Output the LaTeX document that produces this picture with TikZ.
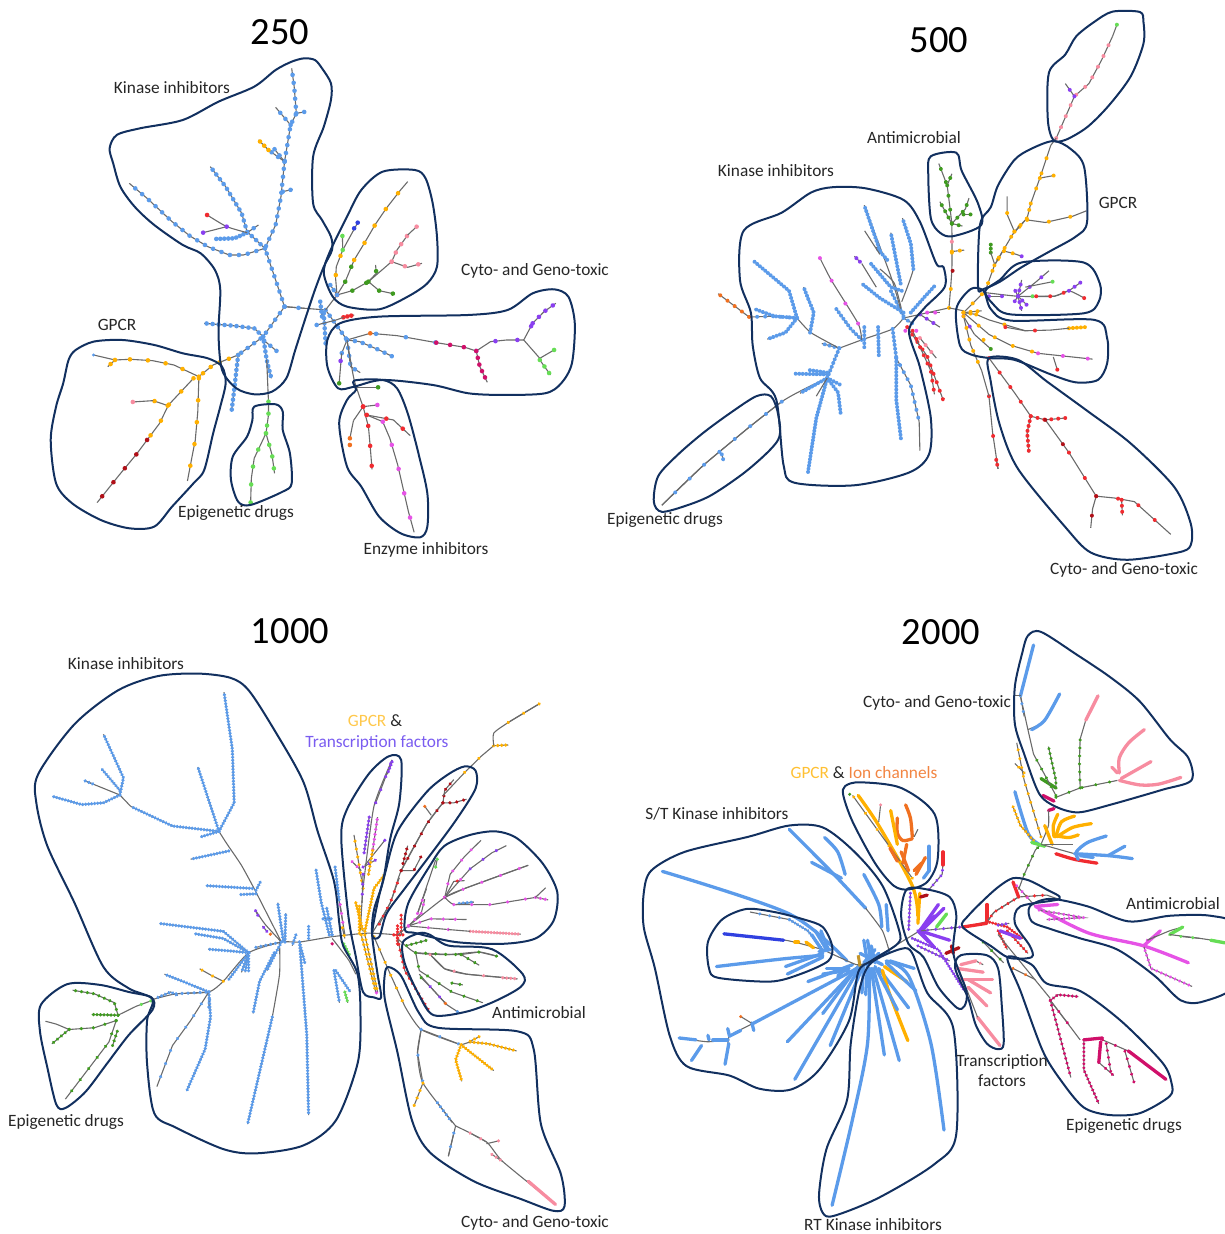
\documentclass[tikz,border=0pt]{standalone}
\usepackage{fontspec}
\usetikzlibrary{decorations.markings}
\setmainfont{Carlito}
\definecolor{blu}{HTML}{5B9BEA}
\definecolor{yel}{HTML}{FFB000}
\definecolor{rd}{HTML}{F02B30}
\definecolor{dkr}{HTML}{B01018}
\definecolor{mag}{HTML}{E653E6}
\definecolor{pur}{HTML}{8A3FF0}
\definecolor{grn}{HTML}{3F9A20}
\definecolor{lgr}{HTML}{66DD55}
\definecolor{pnk}{HTML}{F78CA0}
\definecolor{cri}{HTML}{D0106A}
\definecolor{org}{HTML}{F07020}
\definecolor{dbl}{HTML}{3040E0}
\definecolor{brn}{HTML}{6A6A6A}
\definecolor{nvy}{HTML}{12305F}
\definecolor{ttxt}{HTML}{262626}
\definecolor{tfp}{HTML}{7A5CF0}
\def\dsz{2pt}
\newcommand\T[3][6]{%
  \draw[brn,line width=1.1pt] plot coordinates {#3};
  \path[decoration={markings,mark=between positions 0 and 1 step #1pt with {\fill[#2] (0,0) circle (\dsz);}},decorate] plot coordinates {#3};}
\newcommand\K[2]{\draw[#1,line width=3.3pt,line cap=round] plot[smooth,tension=.5] coordinates {#2};}
\newcommand\G[1]{\draw[brn,line width=1.1pt] plot[smooth,tension=.35] coordinates {#1};}
\newcommand\Bl[1]{\draw[nvy,line width=2pt,line join=round] plot[smooth cycle,tension=.5] coordinates {#1};}
\tikzset{lab/.style={font=\fontsize{17.3}{20}\selectfont,text=ttxt,inner sep=0pt,align=center},
 ttl/.style={font=\fontsize{38.5}{42}\selectfont,text=black,inner sep=0pt}}
\begin{document}
\begin{tikzpicture}[x=1pt,y=-1pt]
\useasboundingbox (0,0) rectangle (1225,1234);
% ---------- 250
\begin{scope}[shift={(40,50)},x=.357pt,y=-.3333pt]
\def\dsz{2.3pt}
\T[8]{blu}{(685,770) (660,690) (630,595) (660,525) (675,440) (685,335) (702,225) (718,190) (712,110) (705,55)}
\T[8]{blu}{(718,190) (745,185)}
\T[8]{blu}{(702,225) (660,172)}
\T[8]{blu}{(685,335) (655,295)}
\T[8]{blu}{(685,335) (640,300)}
\T[6]{yel}{(640,300) (612,270)}
\T[8]{blu}{(680,425) (708,418)}
\T[6]{blu}{(630,595) (580,545) (565,490) (520,410) (477,350)}
\T[9]{blu}{(630,595) (570,615) (530,615) (470,590) (420,558) (370,515) (300,445) (250,400)}
\T[8]{blu}{(580,548) (612,525)}
\T[4]{blu}{(580,548) (545,565) (490,567)}
\G{(580,548) (523,530) (468,495)}
\G{(523,530) (457,548)}
\fill[pur] (523,530) circle (\dsz) (457,548) circle (\dsz);
\fill[rd] (468,495) circle (\dsz);
\T[8]{blu}{(685,770) (625,860) (555,915)}
\T[10]{yel}{(555,915) (485,945) (445,980)}
\T[6]{blu}{(625,860) (600,835) (540,827) (460,820)}
\T[5]{blu}{(625,860) (635,930) (648,985)}
\T[8]{blu}{(628,872) (665,905)}
\G{(635,930) (640,1055)}
\T[12]{lgr}{(640,1055) (640,1095) (633,1150)}
\T[18]{lgr}{(633,1150) (600,1225) (592,1285) (590,1358)}
\T[12]{lgr}{(633,1150) (650,1215) (657,1270)}
\T[5]{blu}{(555,915) (545,1010) (537,1080)}
\T[18]{yel}{(445,980) (375,945) (315,932) (253,928) (210,930)}
\G{(210,930) (150,915)}\fill[blu] (150,915) circle (1.6pt);
\T[6]{yel}{(210,930) (190,950)}
\T[18]{yel}{(430,985) (360,1065) (335,1120) (300,1170)}
\T[18]{dkr}{(300,1170) (270,1213) (222,1275) (160,1358)}
\T[14]{yel}{(358,1067) (317,1052)}
\G{(317,1052) (260,1056)}\fill[pnk] (260,1056) circle (\dsz);
\T[22]{yel}{(445,985) (442,1085) (435,1170) (425,1225) (413,1293)}
\G{(685,770) (800,780)}
\T[14]{blu}{(685,770) (740,775)}
\T[7]{blu}{(800,780) (860,870)}
\G{(800,780) (832,735)}
\T[16]{yel}{(832,735) (855,695)}
\T[16]{grn}{(855,695) (880,630)}
\T[20]{yel}{(880,630) (910,577) (940,522) (970,475) (1010,420) (1030,395)}
\T[20]{yel}{(832,735) (828,685) (830,650) (848,600)}
\G{(848,600) (890,518)}\fill[dbl] (890,518) circle (\dsz) (880,535) circle (\dsz);
\T[14]{lgr}{(848,600) (847,553)}
\T[16]{mag}{(832,735) (875,722)}
\T[16]{grn}{(875,722) (920,695) (942,670) (940,645)}
\G{(920,695) (985,635)}
\T[10]{pnk}{(985,635) (1000,600) (1030,555)}
\G{(1030,555) (1055,530)}\fill[pnk] (1055,530) circle (\dsz);
\T[14]{pnk}{(985,635) (1030,652) (1070,640)}
\T[14]{grn}{(920,695) (950,722) (993,732)}
\T[6]{blu}{(832,735) (810,700)}
\T[5]{blu}{(795,790) (800,880)}
\T[5]{blu}{(785,755) (790,800)}
\G{(775,825) (830,810)}\fill[blu] (775,825) circle (\dsz);
\T[4]{rd}{(850,802) (880,795)}
\G{(830,810) (850,802)}
\T[30]{blu}{(860,870) (925,850) (1000,857) (1110,878)}
\fill[org] (925,850) circle (\dsz);
\T[14]{cri}{(1110,878) (1190,892) (1222,903)}
\T[22]{pur}{(1222,903) (1262,875) (1308,870) (1355,870) (1380,820)}
\T[9]{pur}{(1380,820) (1412,785) (1445,760)}
\G{(1355,870) (1400,925)}
\G{(1400,925) (1440,900)}\fill[lgr] (1440,900) circle (\dsz);
\T[8]{lgr}{(1400,930) (1430,975)}
\T[7]{cri}{(1222,903) (1232,950) (1253,997)}
\T[8]{blu}{(860,870) (895,875) (950,900) (988,920)}
\T[14]{blu}{(860,870) (845,910)}
\G{(845,910) (838,1000)}\fill[pur] (842,933) circle (\dsz);\fill[grn] (838,1000) circle (\dsz);
\T[8]{blu}{(860,870) (870,950) (897,968)}
\G{(860,870) (880,990) (905,1070)}
\G{(880,1012) (947,1012)}\fill[grn] (947,1012) circle (\dsz);
\G{(905,1070) (945,1065)}\fill[mag] (945,1065) circle (\dsz);\fill[rd] (905,1070) circle (\dsz);
\T[18]{rd}{(905,1070) (878,1112)}
\G{(878,1112) (868,1165)}\fill[org] (868,1165) circle (\dsz) (868,1185) circle (\dsz);
\T[20]{rd}{(905,1070) (920,1130) (925,1190) (930,1258)}
\T[20]{rd}{(915,1095) (960,1115)}
\T[25]{mag}{(960,1115) (980,1165) (1002,1245) (1017,1315) (1032,1385) (1048,1447)}
\T[20]{rd}{(915,1095) (990,1110) (1037,1157)}
\Bl{(705,35) (740,25) (770,30) (790,55) (815,100) (815,150) (795,230) (765,320) (765,460) (790,510) (815,560) (818,600) (795,650) (770,720) (745,800) (715,900) (690,985) (650,1025) (600,1033) (550,1015) (510,960) (500,850) (505,720) (490,660) (450,610) (400,585) (320,525) (265,470) (225,410) (205,340) (195,295) (215,255) (280,235) (400,210) (500,155) (600,110) (660,60)}
\Bl{(100,900) (150,875) (230,870) (320,885) (400,910) (470,925) (510,950) (520,1000) (505,1070) (485,1150) (460,1260) (430,1300) (370,1370) (320,1430) (250,1435) (170,1410) (90,1360) (45,1300) (30,1170) (45,1070) (65,1000) (80,930)}
\Bl{(600,1070) (660,1063) (680,1085) (680,1140) (700,1210) (705,1300) (680,1325) (590,1365) (555,1355) (535,1290) (540,1220) (580,1160) (595,1110)}
\Bl{(960,365) (1050,360) (1080,385) (1100,460) (1112,560) (1112,650) (1085,700) (1030,740) (950,778) (860,770) (820,740) (795,670) (810,610) (860,500) (900,420)}
\Bl{(1440,718) (1480,740) (1498,820) (1490,940) (1460,1000) (1415,1030) (1300,1035) (1200,1030) (1100,1005) (960,990) (880,1010) (835,1015) (805,950) (805,870) (840,820) (950,800) (1200,795) (1310,780) (1380,730)}
\Bl{(880,992) (960,990) (1000,1015) (1030,1090) (1060,1210) (1085,1330) (1085,1430) (1065,1462) (1010,1450) (950,1400) (900,1310) (860,1250) (838,1120) (860,1050) (885,1020)}
\end{scope}
% ---------- 500
\begin{scope}[shift={(640,0)},x=.3635pt,y=-.3635pt]
\def\dsz{2pt}
\G{(850,847) (770,865) (725,875)}
\T[8]{pur}{(770,865) (825,900)}
\T[8]{mag}{(790,860) (825,860)}
\G{(725,875) (695,905) (610,935) (548,958)}
\T[5]{blu}{(548,958) (500,945)}
\G{(548,958) (470,915) (432,875)}
\T[8]{blu}{(432,875) (370,870) (305,872)}
\T[9]{org}{(300,872) (255,838) (215,808)}
\T[3.5]{blu}{(432,875) (410,800) (315,720)}
\T[3.5]{blu}{(432,875) (400,915) (350,933)}
\T[3.5]{blu}{(432,875) (370,870) (315,850)}
\T[3.5]{blu}{(468,915) (478,860) (450,790)}
\T[4]{blu}{(548,958) (515,1040)}
\G{(515,1040) (390,1105) (180,1275) (60,1390)}
\T[20]{blu}{(390,1105) (300,1175) (180,1275) (60,1390)}
\T[5]{blu}{(225,1250) (230,1268)}
\T[3.2]{blu}{(515,1040) (485,1150) (462,1300)}
\T[3.5]{blu}{(515,1040) (545,1080) (552,1138)}
\T[3.5]{blu}{(515,1030) (425,1028)}
\T[3.5]{blu}{(515,1040) (550,1058)}
\T[3.5]{blu}{(515,1040) (440,1082)}
\G{(515,1040) (485,1090)}
\T[3.5]{blu}{(515,1025) (465,1018)}
\T[4]{blu}{(610,935) (580,905) (540,850)}
\G{(610,935) (600,890) (527,772) (495,710)}
\fill[mag] (600,890) circle (\dsz) (565,835) circle (\dsz) (527,772) circle (\dsz) (495,710) circle (\dsz);
\T[4]{blu}{(617,900) (617,960)}
\T[3.5]{blu}{(655,900) (657,980)}
\T[4]{blu}{(695,905) (705,985)}
\T[8]{blu}{(705,985) (745,1060) (768,1160)}
\G{(768,1160) (770,1240)}
\T[3.5]{blu}{(705,985) (705,1100) (718,1208)}
\G{(725,875) (700,780) (660,740)}
\T[4]{blu}{(725,870) (690,800)}
\G{(720,860) (690,760) (617,565)}
\T[3.5]{blu}{(660,690) (617,565)}
\T[3.5]{blu}{(717,780) (690,640)}
\G{(720,830) (752,740) (745,670)}
\T[3.5]{blu}{(752,740) (745,670) (722,600)}
\T[3.5]{blu}{(720,800) (690,790) (635,725)}
\T[3.5]{blu}{(725,860) (660,820) (610,780)}
\G{(650,790) (610,725)}\T[5]{pur}{(605,720) (590,705)}
\T[3.5]{blu}{(680,715) (650,680)}
\G{(660,700) (618,635)}
\T[3.5]{blu}{(745,860) (780,820) (812,785)}
\T[5]{blu}{(725,875) (750,890)}
\T[9]{rd}{(735,900) (790,980) (835,1103)}
\T[9]{rd}{(750,910) (800,1020) (810,1085)}
\T[9]{pnk}{(770,930) (815,985)}
\fill[mag] (730,910) circle (\dsz) (760,910) circle (\dsz);
\G{(850,847) (858,740) (858,615)}
\fill[yel] (850,847) circle (\dsz) (855,795) circle (\dsz) (858,695) circle (\dsz);\fill[dkr] (860,745) circle (\dsz);\fill[pnk] (858,665) circle (\dsz);
\T[8]{yel}{(858,692) (892,688)}
\T[14]{grn}{(858,615) (850,550) (845,510) (822,450)}
\T[8]{grn}{(845,510) (858,478)}
\T[7]{grn}{(858,615) (825,555)}
\T[8]{grn}{(858,615) (895,575) (905,545)}
\T[7]{grn}{(890,590) (910,590)}
\T[7]{grn}{(858,615) (887,622)}
\G{(850,847) (890,855)}
\T[13]{yel}{(890,860) (950,800) (975,730) (1025,645) (1065,600)}
\T[9]{yel}{(1030,637) (1065,600) (1075,560)}
\T[16]{yel}{(1075,560) (1100,490) (1130,400)}
\T[12]{pnk}{(1145,380) (1180,300) (1195,265) (1235,230) (1270,165) (1300,100)}
\G{(1130,400) (1145,380)}\G{(1300,100) (1312,68)}\fill[lgr] (1312,68) circle (\dsz);
\T[8]{pur}{(1195,265) (1170,230)}
\T[14]{yel}{(1100,490) (1138,483)}
\T[22]{yel}{(1065,605) (1115,612) (1190,595) (1228,580)}
\T[20]{yel}{(1030,637) (1010,590) (1010,540)}
\T[9]{yel}{(975,730) (998,690) (1030,698)}
\G{(1030,698) (1050,705)}\fill[pur] (1050,705) circle (\dsz);
\T[4]{grn}{(965,695) (965,670)}
\G{(975,725) (965,695)}
\G{(950,805) (1040,815) (1140,815) (1180,800) (1222,820)}
\T[13]{pur}{(960,815) (1000,815)}
\fill[lgr] (1080,815) circle (\dsz);
\T[14]{rd}{(1090,815) (1140,815) (1180,800)}
\fill[rd] (1222,820) circle (\dsz);
\T[7]{pur}{(1180,800) (1215,775)}
\T[6]{pur}{(1040,815) (1050,770)}
\T[15]{pur}{(1040,815) (1090,775) (1125,745)}
\G{(1060,790) (1135,775)}\fill[lgr] (1135,775) circle (\dsz);
\T[6]{pur}{(1040,815) (1065,840)}
\T[6]{pur}{(1040,815) (1050,855)}
\T[6]{pur}{(1040,815) (1030,795)}
\T[6]{pur}{(1040,815) (1030,830)}
\T[7]{yel}{(890,860) (925,865)}
\T[30]{yel}{(925,865) (960,880) (1060,910)}
\T[30]{rd}{(1005,900) (1060,910) (1130,908)}
\T[4]{yel}{(1180,903) (1225,900)}
\G{(1130,908) (1180,903)}
\T[20]{yel}{(890,860) (960,920) (1020,950) (1095,972)}
\T[25]{mag}{(1095,972) (1245,988)}
\G{(1137,982) (1148,1017)}\fill[rd] (1148,1017) circle (\dsz);
\T[7]{yel}{(890,860) (940,855)}
\T[12]{pur}{(890,870) (920,920)}
\G{(920,920) (965,960)}\fill[grn] (965,960) circle (\dsz);\fill[yel] (945,935) circle (\dsz);
\T[12]{yel}{(890,870) (910,950) (940,1020)}
\T[40]{rd}{(960,1090) (970,1190) (985,1290)}
\G{(940,1020) (960,1090)}
\T[5]{rd}{(980,1265) (985,1290)}
\T[18]{rd}{(960,985) (1030,1080) (1075,1145)}
\T[7]{rd}{(1075,1145) (1115,1155) (1170,1150)}
\T[5]{rd}{(1075,1145) (1065,1190) (1070,1245)}
\T[30]{dkr}{(1115,1155) (1180,1245)}
\T[30]{rd}{(1180,1245) (1255,1365)}
\T[22]{rd}{(1255,1365) (1305,1370) (1360,1380) (1410,1425) (1460,1470)}
\T[20]{dkr}{(1255,1365) (1245,1400) (1240,1452)}
\T[6]{rd}{(1325,1375) (1327,1418)}
\Bl{(1300,32) (1375,33) (1385,60) (1385,120) (1350,210) (1290,290) (1230,350) (1170,385) (1137,385) (1122,330) (1125,200) (1170,150) (1200,100) (1250,60)}
\Bl{(1137,388) (1185,410) (1222,460) (1230,610) (1200,650) (1130,690) (1050,735) (990,775) (945,795) (930,790) (935,620) (965,570) (985,510) (1030,440) (1075,410)}
\Bl{(800,430) (870,420) (885,470) (930,560) (938,620) (860,650) (825,640) (800,600) (793,480)}
\Bl{(1050,722) (1220,722) (1265,780) (1262,830) (1220,862) (1020,865) (970,835) (950,800) (990,770)}
\Bl{(910,795) (945,800) (965,850) (1020,882) (1250,880) (1285,930) (1285,1000) (1260,1045) (1200,1052) (1130,1030) (1030,990) (960,985) (910,975) (880,950) (870,850)}
\Bl{(530,515) (620,518) (725,550) (770,610) (815,725) (835,735) (838,790) (780,850) (740,910) (770,1010) (800,1150) (795,1250) (740,1300) (590,1335) (425,1328) (395,1280) (375,1100) (330,1040) (310,950) (305,860) (275,770) (285,635) (390,585) (470,530)}
\Bl{(320,1090) (360,1090) (380,1140) (380,1210) (300,1290) (200,1360) (130,1390) (60,1408) (38,1380) (50,1310) (105,1250) (175,1190) (250,1135)}
\Bl{(960,985) (1040,990) (1120,1050) (1230,1130) (1350,1220) (1470,1340) (1515,1440) (1515,1500) (1480,1520) (1340,1540) (1240,1520) (1170,1450) (1040,1290) (990,1170) (965,1050)}
\end{scope}
% ---------- 1000
\begin{scope}[shift={(20,660)},x=.363pt,y=-.357pt]
\def\dsz{1.8pt}
\G{(368,950) (430,935) (520,930) (560,900) (630,820) (720,790) (770,790) (860,775) (960,765) (1040,770)}
\T[5]{blu}{(650,805) (720,790)}
\T[10]{lgr}{(360,955) (320,970)}
\G{(320,970) (270,995)}
\T[6]{grn}{(270,995) (260,960) (205,935) (145,925)}
\T[3.5]{grn}{(270,995) (198,993)}
\T[12]{grn}{(265,1010) (205,1030) (135,1035)}
\G{(135,1035) (100,1020) (70,1012)}
\T[5]{grn}{(135,1035) (88,1075)}
\T[14]{grn}{(265,1010) (245,1070) (215,1110) (125,1230)}
\T[5]{grn}{(268,1040) (255,1080)}
\T[4]{blu}{(380,945) (415,930) (435,940)}
\T[6]{blu}{(430,935) (520,930)}
\T[3]{blu}{(520,930) (460,905) (398,880)}
\T[3]{blu}{(520,930) (525,1000) (510,1090) (460,1205)}
\T[14]{blu}{(520,930) (470,1010) (420,1080) (377,1195)}
\T[4]{blu}{(522,950) (520,975)}
\T[12]{yel}{(560,900) (530,885) (495,865)}
\T[3]{blu}{(630,820) (560,760) (385,738)}
\T[3]{blu}{(630,820) (560,780) (483,767)}
\T[3]{blu}{(630,820) (580,815) (518,810)}
\T[3]{blu}{(630,820) (610,875)}
\T[3]{blu}{(630,820) (620,875)}
\T[3]{blu}{(630,820) (630,875)}
\T[3]{blu}{(630,820) (575,895)}
\T[3]{blu}{(700,820) (660,900) (642,990)}
\G{(715,790) (715,880) (695,1000)}
\T[3]{blu}{(695,1000) (627,1300)}
\G{(720,790) (675,740) (648,700)}
\T[5]{pur}{(655,715) (648,700)}
\T[5]{pur}{(680,760) (668,745)}
\fill[org] (690,768) circle (\dsz);
\G{(720,790) (650,650) (610,575) (570,515) (548,480)}
\T[3]{blu}{(548,480) (420,465) (305,410)}
\G{(305,410) (275,378)}
\T[3]{blu}{(548,480) (490,300)}
\T[3]{blu}{(548,480) (590,400) (585,250) (562,90)}
\T[3]{blu}{(548,480) (500,495)}
\T[3]{blu}{(575,535) (470,558)}
\T[3]{blu}{(640,640) (512,632)}
\T[3]{blu}{(650,655) (608,657)}
\T[3]{blu}{(650,645) (663,620)}
\T[3]{blu}{(275,378) (285,330) (230,208)}
\T[3]{blu}{(275,365) (225,305)}
\G{(275,378) (178,338)}\T[4]{blu}{(200,347) (178,338)}
\T[3]{blu}{(275,378) (230,400) (170,405) (90,382)}
\T[3]{blu}{(725,785) (710,680)}
\T[3]{blu}{(730,790) (732,710)}
\T[3]{blu}{(720,790) (680,870)}
\T[3]{blu}{(770,790) (790,1050) (795,1275)}
\T[3]{blu}{(770,790) (785,850)}
\T[3]{blu}{(760,770) (750,800)}
\T[3]{blu}{(795,780) (795,745)}
\T[3]{blu}{(852,770) (830,680) (815,585)}
\T[3]{blu}{(868,580) (880,680)}
\G{(880,680) (895,770)}
\T[9]{mag}{(882,685) (890,740)}
\T[3]{blu}{(860,770) (845,695)}
\T[4]{blu}{(835,725) (860,725)}
\T[8]{yel}{(888,750) (895,780)}
\G{(860,780) (905,840) (925,880)}
\fill[cri] (860,795) circle (\dsz);
\T[3]{lgr}{(892,795) (907,825)}
\T[3]{blu}{(865,870) (880,960)}
\T[3]{blu}{(870,870) (910,930)}
\T[3]{lgr}{(895,930) (903,960)}
\G{(938,760) (945,640) (975,410) (1025,280)}
\T[14]{pur}{(980,400) (1025,280)}
\T[3.5]{pur}{(1025,285) (1012,320)}
\T[8]{yel}{(945,640) (920,490)}
\T[4]{pur}{(948,540) (962,440)}
\T[7]{mag}{(915,565) (940,590)}
\T[7]{pur}{(945,580) (980,560)}
\G{(950,575) (1005,505)}\fill[pur] (1005,505) circle (\dsz);
\T[5]{mag}{(972,530) (985,440)}
\T[4]{yel}{(960,600) (972,530)}
\T[3]{yel}{(950,760) (975,640) (1005,600)}
\T[5]{yel}{(940,770) (980,930)}
\T[5]{yel}{(950,770) (985,930)}
\T[3]{yel}{(935,690) (935,770)}
\T[3]{yel}{(925,680) (945,760)}
\T[10]{pur}{(945,600) (942,680)}
\fill[mag] (982,932) circle (\dsz);
\G{(970,765) (1020,680) (1050,590) (1120,460) (1165,400)}
\T[14]{dkr}{(1050,590) (1120,460) (1165,400)}
\T[9]{rd}{(990,740) (1020,680) (1045,610)}
\T[7]{dkr}{(1165,400) (1195,400) (1230,390)}
\T[7]{dkr}{(1165,400) (1170,365) (1195,335)}
\G{(1133,435) (1115,410)}\fill[org] (1115,410) circle (\dsz);
\T[14]{dkr}{(1050,590) (1085,590) (1105,550)}
\T[5]{dkr}{(1055,570) (1068,520)}
\G{(1165,380) (1225,315)}
\T[20]{yel}{(1225,315) (1270,270) (1305,240)}
\T[4]{yel}{(1305,240) (1345,238)}
\G{(1305,240) (1305,205) (1345,175) (1430,123)}
\T[18]{yel}{(1345,175) (1430,123)}
\T[3]{rd}{(1030,770) (1055,770)}
\T[3]{rd}{(1040,745) (1040,800)}
\T[4]{rd}{(1050,715) (1050,770)}
\G{(1040,770) (1070,745) (1170,665) (1225,640) (1400,575)}
\T[20]{mag}{(1170,665) (1225,640) (1400,575)}
\T[9]{mag}{(1070,745) (1105,710) (1115,670)}
\T[22]{rd}{(1170,665) (1195,620) (1225,618)}
\T[14]{mag}{(1170,665) (1185,600) (1225,550) (1270,505)}
\T[24]{mag}{(1170,665) (1240,585)}
\T[16]{pur}{(1240,585) (1300,540) (1340,520)}
\G{(1170,665) (1195,685) (1250,678)}
\T[4]{blu}{(1210,682) (1250,678)}
\T[18]{mag}{(1195,685) (1300,685) (1420,665)}
\T[5]{mag}{(1420,665) (1455,672)}
\G{(1420,665) (1448,638)}
\T[12]{mag}{(1070,745) (1130,725) (1230,727)}
\T[20]{mag}{(1070,745) (1180,755)}
\T[3]{pnk}{(1240,760) (1380,768)}
\G{(1180,755) (1240,760)}
\G{(1095,710) (1145,560)}
\T[8]{lgr}{(1145,580) (1150,555)}
\T[14]{mag}{(1095,710) (1120,640)}
\G{(1040,780) (1090,820) (1180,825) (1265,818) (1315,830)}
\T[10]{grn}{(1090,820) (1180,825) (1215,825)}
\T[18]{grn}{(1215,825) (1265,818) (1315,830)}
\T[8]{grn}{(1215,825) (1265,855)}
\T[5]{grn}{(1065,800) (1120,785)}
\G{(1130,825) (1170,865) (1230,880) (1370,893)}
\T[30]{pnk}{(1130,825) (1170,865) (1230,880) (1340,890)}
\T[4]{pnk}{(1330,890) (1370,893)}
\T[14]{grn}{(1090,820) (1100,870) (1190,930) (1275,960)}
\T[8]{grn}{(1190,905) (1220,910)}
\G{(1100,880) (1130,915) (1175,965)}
\T[14]{grn}{(1105,890) (1130,915)}
\T[14]{pur}{(1130,915) (1175,965)}
\G{(1175,965) (1205,985)}\fill[blu] (1205,985) circle (\dsz);\fill[org] (1172,962) circle (\dsz);
\T[6]{rd}{(1040,780) (1060,870) (1125,980)}
\T[14]{yel}{(975,775) (1020,880) (1060,970)}
\G{(1060,970) (1105,1035) (1215,1078)}
\T[20]{blu}{(1105,1035) (1215,1078)}
\T[4]{yel}{(1240,1070) (1290,1075) (1368,1095)}
\G{(1215,1078) (1240,1070)}
\T[3]{yel}{(1215,1078) (1305,1150)}
\T[3]{yel}{(1215,1078) (1200,1120) (1217,1180)}
\T[5]{yel}{(1240,1068) (1265,1055)}
\G{(1105,1035) (1095,1100) (1110,1185) (1200,1305)}
\T[26]{blu}{(1105,1035) (1095,1100) (1110,1185)}
\T[5]{blu}{(1150,1240) (1190,1295)}
\T[8]{yel}{(1110,1185) (1085,1250)}
\G{(1200,1305) (1285,1350) (1330,1405) (1475,1525)}
\T[5]{pnk}{(1300,1385) (1330,1405)}
\K{pnk}{(1400,1460) (1475,1525)}
\T[12]{pnk}{(1240,1325) (1285,1350)}
\G{(1200,1305) (1180,1390)}\T[14]{blu}{(1195,1325) (1180,1390)}
\G{(1285,1355) (1318,1347)}\fill[pnk] (1318,1347) circle (\dsz);
\Bl{(490,38) (580,50) (630,85) (700,195) (780,340) (820,480) (865,620) (880,740) (890,800) (930,880) (938,1000) (930,1130) (870,1290) (780,1360) (650,1382) (560,1370) (430,1310) (370,1270) (350,1130) (350,1010) (365,950) (300,920) (230,860) (150,680) (75,520) (45,400) (50,320) (150,180) (270,85) (380,45)}
\Bl{(130,908) (220,910) (300,930) (362,945) (365,980) (300,1050) (240,1130) (180,1210) (125,1255) (100,1245) (75,1140) (55,1040) (58,965)}
\Bl{(1015,270) (1050,280) (1045,400) (1020,500) (1000,620) (975,700) (970,770) (985,880) (995,945) (975,945) (945,930) (925,830) (905,720) (885,500) (900,420) (960,320)}
\Bl{(1225,298) (1255,310) (1255,360) (1200,450) (1120,560) (1060,640) (1010,710) (990,775) (970,770) (985,680) (1005,600) (1040,480) (1120,370) (1180,320)}
\Bl{(1310,480) (1370,500) (1440,570) (1480,650) (1470,730) (1420,780) (1330,795) (1200,790) (1090,765) (1060,755) (1070,680) (1130,575) (1170,520) (1240,490)}
\Bl{(1100,765) (1130,770) (1180,800) (1300,810) (1385,880) (1380,915) (1310,955) (1230,985) (1140,995) (1100,940) (1060,850) (1055,790)}
\Bl{(1015,860) (1050,885) (1100,990) (1150,1030) (1370,1040) (1415,1090) (1435,1300) (1490,1440) (1500,1530) (1470,1543) (1380,1510) (1250,1460) (1130,1380) (1080,1290) (1040,1100) (1005,950) (1005,880)}
\end{scope}
% ---------- 2000
\begin{scope}[shift={(640,630)},x=.373pt,y=-.376pt]
\def\dsz{1.7pt}
\K{blu}{(400,530) (520,650) (605,740)}
\G{(605,740) (650,800) (670,860)}
\K{blu}{(460,618) (540,660)}
\K{blu}{(495,552) (530,590) (550,650)}
\K{blu}{(600,650) (640,730) (648,790)}
\K{blu}{(660,730) (665,800)}
\K{blu}{(60,642) (400,755) (555,880)}
\K{blu}{(610,885) (300,1048)}
\G{(300,1048) (240,1080) (235,1120)}
\K{blu}{(270,1065) (240,1080)}
\K{blu}{(238,1100) (228,1155)}
\K{blu}{(300,1045) (305,1065)}
\G{(240,1090) (180,1095) (105,1085)}
\K{blu}{(235,1090) (195,1090)}
\K{blu}{(150,1090) (105,1085)}
\K{blu}{(165,1105) (138,1145)}
\K{blu}{(240,1080) (235,1060)}
\K{blu}{(185,1090) (182,1078)}
\G{(298,1045) (270,1028)}\fill[org] (270,1028) circle (\dsz);
\K{blu}{(590,890) (395,1095)}
\K{blu}{(590,895) (415,1195)}
\K{blu}{(595,900) (510,1105)}
\K{blu}{(580,900) (490,1020)}
\K{blu}{(570,890) (450,935)}
\K{blu}{(560,900) (500,900)}
\K{blu}{(560,905) (490,915)}
\K{blu}{(560,895) (530,920)}
\K{blu}{(600,890) (595,965)}
\K{blu}{(610,890) (605,970)}
\K{blu}{(620,900) (655,1130)}
\K{blu}{(625,900) (695,1145)}
\K{blu}{(640,900) (720,1005)}
\K{yel}{(650,905) (670,970) (718,1092)}
\K{blu}{(630,895) (690,1010)}
\K{yel}{(655,895) (715,935)}
\K{blu}{(660,885) (740,960)}
\K{blu}{(670,880) (735,900)}
\K{blu}{(515,1530) (570,1300) (610,1100) (615,900)}
\K{blu}{(815,1330) (780,1100) (720,920) (660,880)}
\K{blu}{(600,825) (610,885)}
\K{blu}{(610,825) (620,885)}
\K{blu}{(620,840) (630,885)}
\K{blu}{(630,850) (600,885)}
\K{blu}{(590,860) (650,890)}
\K{blu}{(640,860) (610,890)}
\K{blu}{(610,885) (665,855)}
\G{(490,850) (580,890) (610,885)}
\T[3]{blu}{(490,850) (450,800) (400,770)}
\T[10]{blu}{(400,770) (295,750)}
\G{(490,850) (390,825) (225,808)}
\K{dbl}{(225,808) (385,825)}
\K{blu}{(490,865) (380,875) (205,895)}
\K{blu}{(490,860) (390,895)}
\K{blu}{(490,870) (395,915)}
\K{yel}{(465,845) (445,830)}
\K{yel}{(425,830) (415,830)}
\K{blu}{(470,800) (500,850)}
\K{blu}{(485,800) (505,850)}
\K{blu}{(460,810) (490,855)}
\K{blu}{(510,850) (480,855)}
\draw[yel!60!brn,line width=3pt] (585,865) -- (590,895);
\G{(610,885) (700,830) (750,800)}
\K{pur}{(750,800) (800,730)}
\K{pur}{(755,800) (815,740)}
\K{pur}{(750,800) (790,760)}
\K{pur}{(750,800) (830,825)}
\K{lgr}{(795,790) (822,755)}
\K{pur}{(745,800) (775,830)}
\K{pur}{(750,800) (790,845)}
\T[4]{pur}{(725,700) (720,800)}
\K{yel}{(745,780) (750,700)}
\T[6]{pur}{(775,690) (810,650) (812,625)}
\K{rd}{(812,625) (812,590)}
\K{dkr}{(752,710) (770,705)}
\T[4]{pur}{(745,840) (830,880)}
\T[3]{pur}{(730,820) (800,850) (870,960)}
\T[8]{pur}{(750,800) (860,790)}
\K{dkr}{(820,860) (855,845)}
\K{dkr}{(840,860) (835,840)}
\K{yel}{(745,760) (730,680) (640,520) (585,440)}
\T[20]{yel}{(730,660) (570,440)}
\fill[grn] (562,437) circle (\dsz);
\K{org}{(690,500) (690,540) (705,560) (730,555)}
\K{org}{(712,465) (725,500) (730,550)}
\K{org}{(740,650) (765,605)}
\K{org}{(705,620) (715,570)}
\K{org}{(690,615) (670,580)}
\K{yel}{(672,480) (690,570)}
\K{org}{(735,640) (755,620)}
\K{org}{(720,640) (700,590)}
\G{(735,550) (745,530)}
\G{(640,510) (645,465)}\fill[pnk] (645,465) circle (\dsz);
\K{blu}{(775,575) (775,640)}
\K{blu}{(760,660) (775,640)}
\G{(865,790) (930,775) (950,750) (1015,710)}
\K{rd}{(865,790) (930,780)}
\K{rd}{(930,775) (930,730)}
\T[7]{rd}{(930,775) (950,750) (1015,710)}
\K{rd}{(1015,710) (1000,670)}
\T[8]{rd}{(1015,710) (1090,705)}
\G{(1090,705) (1120,715)}
\T[3]{rd}{(930,775) (985,790) (1025,820)}
\T[4]{rd}{(985,800) (1040,860)}
\T[3]{rd}{(960,800) (985,850)}
\T[4]{pur}{(960,785) (990,780)}
\K{pur}{(965,800) (1020,820)}
\G{(1015,690) (1030,650)}
\T[10]{grn}{(1030,650) (1060,585) (1075,570)}
\T[14]{grn}{(1115,445) (1180,420) (1280,400)}
\K{pnk}{(1290,395) (1370,350)}
\K{pnk}{(1285,400) (1340,412) (1390,410) (1450,392)}
\K{pnk}{(1285,380) (1285,340) (1310,300) (1352,265)}
\K{pnk}{(1280,380) (1265,365)}
\T[8]{grn}{(1180,420) (1178,350) (1180,290)}
\G{(1180,290) (1195,240)}
\K{pnk}{(1195,240) (1228,175)}
\K{grn}{(1115,420) (1075,395)}
\T[5]{grn}{(1115,420) (1115,400) (1095,310)}
\T[10]{grn}{(1115,440) (1055,330)}
\G{(1055,330) (1040,265) (1020,175)}
\K{blu}{(1020,175) (1055,40)}
\T[8]{blu}{(1020,175) (1030,230)}
\G{(1040,265) (1075,250)}
\K{blu}{(1050,265) (1085,240) (1125,170)}
\G{(1020,175) (1005,175)}
\K{cri}{(1080,440) (1110,455)}
\K{cri}{(1095,480) (1110,475)}
\G{(1075,570) (1095,520) (1095,480)}
\K{blu}{(1070,570) (1040,540) (1005,430)}
\T[4]{yel}{(1055,560) (1020,520) (1000,470)}
\T[9]{yel}{(1075,550) (1030,400) (1010,300)}
\T[8]{yel}{(1030,380) (1005,355)}
\K{yel}{(1120,490) (1108,520) (1110,550)}
\K{yel}{(1165,495) (1130,510) (1115,550)}
\K{yel}{(1210,515) (1160,525) (1118,550)}
\K{yel}{(1175,545) (1150,552) (1120,548)}
\K{yel}{(1085,520) (1105,570)}
\G{(1075,570) (1160,570)}
\K{lgr}{(1050,565) (1085,575)}
\K{rd}{(1115,595) (1165,610) (1225,620)}
\K{blu}{(1250,548) (1200,565) (1170,590) (1175,610)}
\G{(1075,570) (1165,595)}
\K{blu}{(1165,595) (1255,600) (1320,608)}
\K{blu}{(1255,600) (1300,575)}
\K{blu}{(1180,600) (1215,605)}
\T[8]{mag}{(1010,680) (1060,735)}
\K{mag}{(1060,735) (1200,805) (1350,840) (1470,885)}
\K{mag}{(1060,735) (1120,730)}
\T[5]{mag}{(1070,745) (1190,765) (1090,770)}
\K{mag}{(1350,840) (1395,800)}
\T[5]{mag}{(1350,840) (1370,900) (1480,948)}
\T[6]{mag}{(1360,825) (1380,815)}
\G{(1360,825) (1420,800) (1455,790)}
\K{lgr}{(1420,810) (1455,790)}
\G{(1420,810) (1500,820) (1568,830)}
\T[12]{lgr}{(1450,815) (1500,820)}
\K{lgr}{(1530,825) (1568,832)}
\T[12]{grn}{(920,830) (975,885)}
\G{(960,810) (1100,980)}
\T[14]{org}{(1000,900) (1060,930)}
\T[4]{cri}{(1100,985) (1120,970) (1175,975)}
\G{(1100,985) (1180,1090)}
\T[14]{cri}{(1100,985) (1150,1050)}
\K{cri}{(1190,1090) (1240,1085)}
\T[14]{cri}{(1240,1090) (1310,1120)}
\K{cri}{(1310,1120) (1410,1195)}
\T[5]{cri}{(1100,985) (1155,1190)}
\T[4]{cri}{(1190,1090) (1190,1170) (1230,1260)}
\K{cri}{(1235,1095) (1230,1150)}
\T[9]{cri}{(1230,1150) (1270,1185)}
\T[8]{cri}{(1300,1120) (1325,1205)}
\T[7]{cri}{(1250,1100) (1262,1175)}
\K{pnk}{(905,1030) (965,1105)}
\G{(850,890) (905,1030)}
\K{pnk}{(860,890) (900,880)}
\K{pnk}{(850,900) (920,910)}
\K{pnk}{(860,930) (945,930)}
\K{pnk}{(880,930) (940,965)}
\K{pnk}{(880,950) (930,1000)}
\T[5]{pnk}{(900,880) (920,890)}
\Bl{(1040,15) (1075,5) (1170,65) (1260,125) (1340,190) (1420,290) (1470,340) (1478,400) (1400,425) (1260,465) (1175,485) (1115,470) (1070,435) (1030,330) (1005,250) (1005,150) (1025,60)}
\Bl{(550,415) (590,405) (700,420) (790,490) (798,610) (770,670) (720,690) (680,680) (630,620) (570,510) (545,440)}
\Bl{(400,520) (490,525) (575,590) (650,680) (695,800) (690,835) (620,880) (585,910) (560,1040) (480,1170) (405,1222) (320,1220) (240,1185) (125,1160) (80,1080) (40,900) (10,790) (10,700) (30,640) (120,590) (290,550)}
\Bl{(285,742) (360,750) (440,770) (490,790) (515,840) (505,880) (430,915) (350,935) (210,925) (185,900) (182,830) (220,770)}
\Bl{(620,885) (700,848) (730,860) (770,965) (840,1060) (848,1340) (790,1420) (640,1510) (520,1558) (490,1550) (480,1500) (500,1380) (555,1250) (565,1100) (590,950)}
\Bl{(715,690) (770,690) (830,710) (848,760) (840,860) (875,960) (870,1000) (850,1005) (800,950) (760,870) (720,835) (700,760)}
\Bl{(860,865) (930,865) (960,900) (970,1000) (975,1100) (960,1115) (930,1100) (900,1050) (880,980) (845,900)}
\Bl{(1000,660) (1040,665) (1090,690) (1125,715) (1020,735) (1005,780) (1045,840) (1050,870) (990,872) (940,840) (865,790) (880,760) (930,710) (965,680)}
\Bl{(1100,715) (1200,735) (1310,775) (1420,760) (1530,760) (1600,790) (1600,940) (1510,988) (1450,985) (1380,920) (1280,850) (1180,820) (1100,795) (1050,775) (1045,735)}
\Bl{(985,870) (1050,890) (1090,940) (1180,960) (1290,1040) (1400,1150) (1425,1205) (1420,1240) (1340,1285) (1260,1290) (1190,1270) (1130,1200) (1080,1120) (1020,960)}
\end{scope}
% ---------- titles and labels
\node[ttl] (t250) at (280,32) {250};
\node[ttl] (t500) at (939,40) {500};
\node[ttl] (t1000) at (290,631) {1000};
\node[ttl] (t2000) at (941,632) {2000};
\node[lab] (a1) at (172,88) {Kinase inhibitors};
\node[lab] (a2) at (117,325) {GPCR};
\node[lab] (a3) at (535,271) {Cyto- and Geno-toxic};
\node[lab] (a4) at (236,513) {Epigenetic drugs};
\node[lab] (a5) at (426,550) {Enzyme inhibitors};
\node[lab] (b1) at (914,138) {Antimicrobial};
\node[lab] (b2) at (776,171) {Kinase inhibitors};
\node[lab] (b3) at (1118,203) {GPCR};
\node[lab] (b4) at (665,520) {Epigenetic drugs};
\node[lab] (b5) at (1124,570) {Cyto- and Geno-toxic};
\node[lab] (c1) at (126,664) {Kinase inhibitors};
\node[lab] (c2) at (375,721) {\textcolor{yel!70!white}{GPCR} \&};
\node[lab,text=tfp] (c3) at (377,743) {Transcription factors};
\node[lab] (c4) at (539,1013) {Antimicrobial};
\node[lab] (c5) at (66,1122) {Epigenetic drugs};
\node[lab] (c6) at (535,1223) {Cyto- and Geno-toxic};
\node[lab] (d1) at (937,703) {Cyto- and Geno-toxic};
\node[lab] (d2) at (864,773) {\textcolor{yel!80!white}{GPCR} \& \textcolor{org!85!white}{Ion channels}};
\node[lab] (d3) at (717,814) {S/T Kinase inhibitors};
\node[lab] (d4) at (1173,904) {Antimicrobial};
\node[lab] (d5) at (1002,1071) {Transcription\\factors};
\node[lab] (d6) at (1124,1126) {Epigenetic drugs};
\node[lab] (d7) at (873,1225) {RT Kinase inhibitors};
\end{tikzpicture}
\end{document}
